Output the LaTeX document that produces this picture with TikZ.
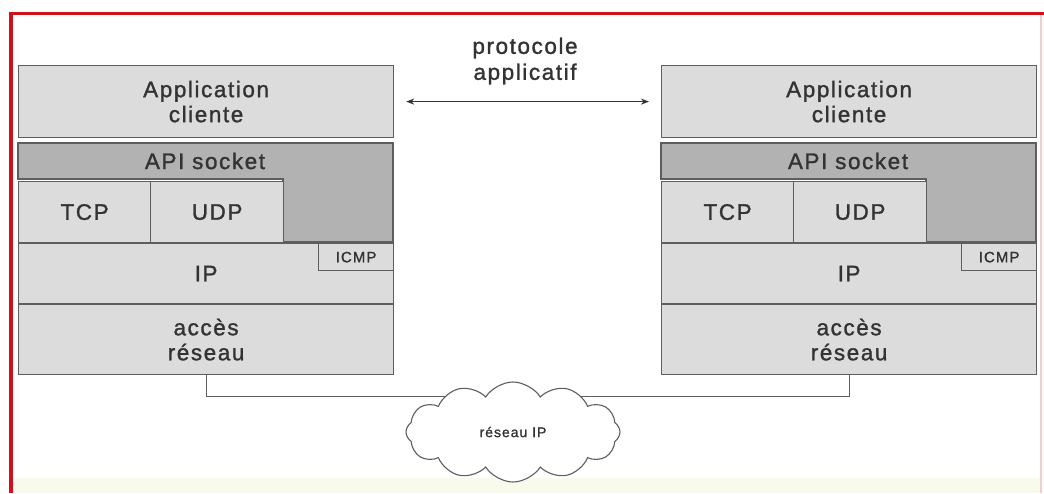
\documentclass[tikz,border=0pt]{standalone}
\usepackage{fontspec}
\setmainfont{Liberation Sans}[LetterSpace=7, FakeBold=1.3]
\usetikzlibrary{arrows.meta,shapes.symbols}

\definecolor{layerfill}{HTML}{DCDCDC}
\definecolor{apifill}{HTML}{B2B2B2}
\definecolor{edge}{HTML}{5E5E5E}
\definecolor{ink}{HTML}{333333}
\definecolor{framered}{HTML}{D0101A}
\definecolor{framepink}{HTML}{F4CCCC}
\definecolor{paleband}{HTML}{F8FBEC}

\tikzset{
  layer/.style={draw=edge, line width=1.2pt, fill=layerfill, text=ink,
    inner sep=0pt, anchor=north west, align=center,
    font=\fontsize{22.5}{25}\selectfont},
  smalllayer/.style={layer, font=\fontsize{15}{17}\selectfont},
  apiarea/.style={draw=edge, line width=1.2pt, fill=apifill},
  label/.style={text=ink, inner sep=0pt, align=center,
    font=\fontsize{22.5}{26}\selectfont},
  link/.style={draw=edge, line width=1.2pt},
}

% one protocol stack, #1 = name prefix, #2 = horizontal offset
\newcommand\protostack[2]{%
  \begin{scope}[xshift=#2]
    \node[layer, minimum width=375pt, minimum height=72pt] (#1-app) at (0,65)
      {Application\\cliente};
    \draw[apiarea] (0,143) -- (375,143) -- (375,242) -- (265,242)
      -- (265,179) -- (0,179) -- cycle;
    \node[label] (#1-api) at (187,161) {API socket};
    \node[layer, minimum width=132pt, minimum height=61pt] (#1-tcp) at (0,181) {TCP};
    \node[layer, minimum width=133pt, minimum height=61pt] (#1-udp) at (132,181) {UDP};
    \node[layer, minimum width=375pt, minimum height=60pt] (#1-ip) at (0,243) {IP};
    \node[smalllayer, minimum width=75pt, minimum height=27pt] (#1-icmp) at (300,243) {ICMP};
    \node[layer, minimum width=375pt, minimum height=70pt] (#1-acc) at (0,304)
      {accès\\réseau};
  \end{scope}}

\begin{document}
\begin{tikzpicture}[x=1pt,y=-1pt]
  \useasboundingbox (0,0) rectangle (1044,493);
  \fill[white] (0,0) rectangle (1044,493);
  \fill[paleband] (11,478) rectangle (1041,493);

  % frame
  \draw[framered, line width=3pt] (9,13.5) -- (1044,13.5);
  \draw[framered, line width=3.5pt] (11,12) -- (11,493);
  \draw[framepink, line width=2pt] (1041,15) -- (1041,493);

  \protostack{L}{18pt}
  \protostack{R}{661pt}

  % application protocol between the two clients
  \node[label] (proto) at (525,61) {protocole\\applicatif};
  \draw[{Stealth[length=8pt,width=6pt]}-{Stealth[length=8pt,width=6pt]},
        line width=1.4pt, draw=ink]
    ([xshift=12pt]L-app.east) -- ([xshift=-12pt]R-app.west);

  % link between the two hosts through the network
  \draw[link] (L-acc.south) -- ++(0,21) -| (R-acc.south);
  \node[cloud, cloud puffs=12, cloud puff arc=115, aspect=2.1,
        draw=edge, line width=1.1pt, fill=white,
        minimum width=214pt, minimum height=100pt, inner sep=0pt,
        text=ink, font=\fontsize{14}{16}\selectfont] (net) at (513,432)
    {réseau IP};
\end{tikzpicture}
\end{document}
